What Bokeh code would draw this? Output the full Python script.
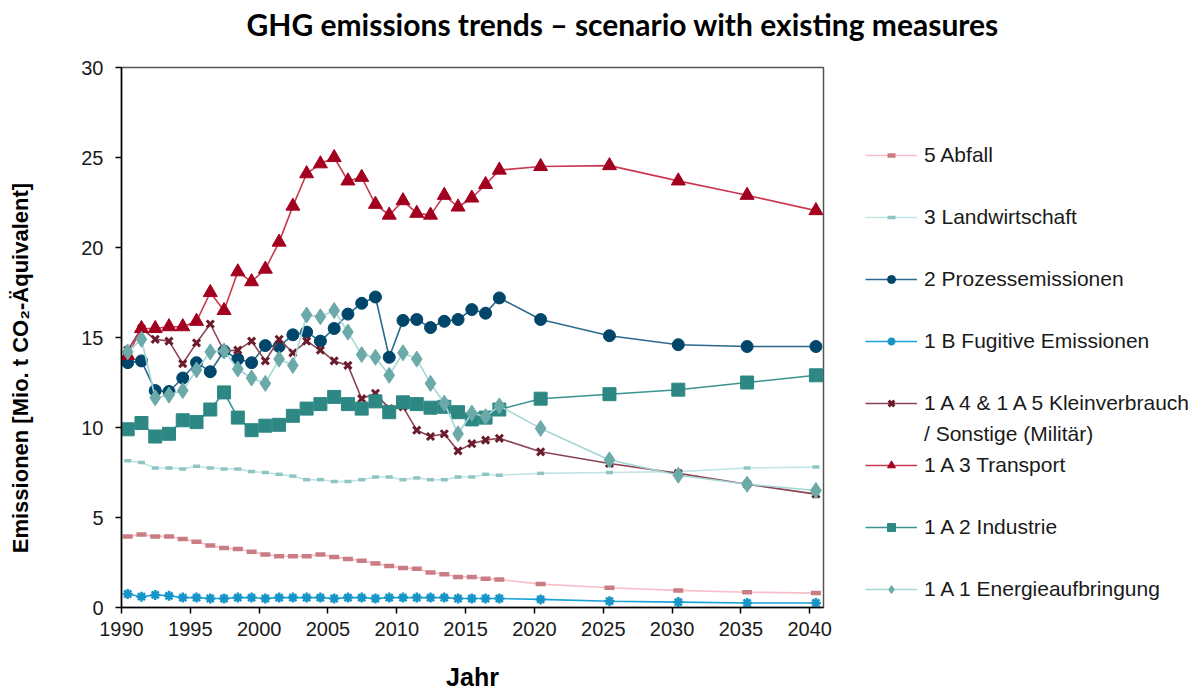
from bokeh.plotting import figure
from bokeh.models import (Range1d, FixedTicker, CustomJSTickFormatter, Legend, LegendItem)
from bokeh.embed import file_html
from bokeh.resources import INLINE

years = list(range(1990, 2018)) + [2020, 2025, 2030, 2035, 2040]

abfall = [3.95, 4.05, 3.95, 3.95, 3.8, 3.65, 3.45, 3.3, 3.25, 3.1, 2.95, 2.85, 2.85, 2.85,
          2.95, 2.8, 2.7, 2.6, 2.45, 2.3, 2.2, 2.15, 1.95, 1.85, 1.7, 1.7, 1.6, 1.55,
          1.3, 1.1, 0.95, 0.85, 0.8]
landwirtschaft = [8.15, 8.05, 7.75, 7.75, 7.7, 7.85, 7.75, 7.7, 7.7, 7.55, 7.5, 7.4, 7.3, 7.1,
                  7.1, 7.0, 7.0, 7.1, 7.25, 7.25, 7.1, 7.2, 7.1, 7.1, 7.25, 7.25, 7.4, 7.35,
                  7.45, 7.5, 7.55, 7.75, 7.8]
prozess = [13.6, 13.7, 12.05, 12.0, 12.75, 13.6, 13.1, 14.25, 13.8, 13.6, 14.55, 14.5, 15.15, 15.3,
           14.8, 15.5, 16.3, 16.9, 17.25, 13.9, 15.95, 16.0, 15.55, 15.9, 16.0, 16.55, 16.35, 17.2,
           16.0, 15.1, 14.6, 14.5, 14.5]
fugitive = [0.75, 0.6, 0.7, 0.65, 0.55, 0.55, 0.5, 0.5, 0.55, 0.55, 0.5, 0.55, 0.55, 0.55,
            0.55, 0.5, 0.55, 0.55, 0.5, 0.55, 0.55, 0.55, 0.55, 0.55, 0.5, 0.5, 0.5, 0.5,
            0.45, 0.35, 0.3, 0.25, 0.25]
kleinverbrauch = [14.3, 15.5, 14.9, 14.8, 13.55, 14.7, 15.75, 14.25, 14.3, 14.8, 13.7, 14.9, 14.15, 14.8,
                  14.3, 13.7, 13.45, 11.6, 11.9, 11.05, 11.15, 9.85, 9.5, 9.65, 8.7, 9.1, 9.3, 9.4,
                  8.65, 8.0, 7.45, 6.85, 6.3]
transport = [14.0, 15.5, 15.5, 15.6, 15.6, 15.9, 17.5, 16.5, 18.65, 18.1, 18.8, 20.3, 22.3, 24.1,
             24.65, 25.0, 23.7, 23.9, 22.4, 21.8, 22.6, 21.9, 21.8, 22.9, 22.25, 22.75, 23.5, 24.3,
             24.5, 24.55, 23.7, 22.9, 22.05]
industrie = [9.9, 10.25, 9.5, 9.65, 10.4, 10.3, 11.0, 11.95, 10.55, 9.85, 10.1, 10.15, 10.65, 11.05,
             11.3, 11.7, 11.3, 11.05, 11.45, 10.85, 11.4, 11.3, 11.1, 11.15, 10.85, 10.45, 10.55, 11.0,
             11.6, 11.85, 12.1, 12.5, 12.9]
energie = [14.2, 14.9, 11.65, 11.8, 12.05, 13.2, 14.2, 14.25, 13.25, 12.75, 12.45, 13.8, 13.45, 16.25,
           16.15, 16.5, 15.3, 14.05, 13.9, 12.9, 14.15, 13.8, 12.45, 11.35, 9.65, 10.8, 10.6, 11.2,
           9.95, 8.2, 7.35, 6.85, 6.5]

series_names = ["5 Abfall", "3 Landwirtschaft", "2 Prozessemissionen", "1 B Fugitive Emissionen",
                "1 A 4 & 1 A 5 Kleinverbrauch", "1 A 3 Transport", "1 A 2 Industrie",
                "1 A 1 Energieaufbringung"]
series_values = [abfall, landwirtschaft, prozess, fugitive, kleinverbrauch, transport, industrie, energie]
legend_second_line = "/ Sonstige (Militär)"
x_tick_labels = [str(y) for y in range(1990, 2041, 5)]
y_tick_values = [0, 5, 10, 15, 20, 25, 30]

styles = [
    dict(line="#F7BFCA", marker="dash", mcolor="#C97C82", size=10, mlw=4.5),
    dict(line="#C3E4E4", marker="dash", mcolor="#8EC4C4", size=7, mlw=3.5),
    dict(line="#2B6A8E", marker="circle", mcolor="#00466A", size=12, mlw=1),
    dict(line="#1AA2DA", marker="asterisk", mcolor="#1594C8", size=10, mlw=2.5),
    dict(line="#8B4353", marker="x", mcolor="#6A1C2C", size=10, mlw=3),
    dict(line="#C93A50", marker="triangle", mcolor="#A30020", size=14, mlw=1),
    dict(line="#3A9390", marker="square", mcolor="#2D8884", size=13, mlw=1),
    dict(line="#A5D7D7", marker="diamond", mcolor="#6BAAA8", size=16, mlw=1),
]

FONT = "Liberation Sans"
OFF = 0.45  # data points sit slightly right of the tick marks in the original

p = figure(frame_width=702, frame_height=540, output_backend="svg", toolbar_location=None,
           x_range=Range1d(1990 - OFF, 2041 - OFF), y_range=Range1d(0, 30),
           min_border_left=121, min_border_top=67, min_border_right=375, min_border_bottom=84,
           background_fill_color="white", border_fill_color="white")

renderers = []
for vals, st in zip(series_values, styles):
    r1 = p.line(years, vals, line_color=st["line"], line_width=1.6)
    r2 = p.scatter(years, vals, marker=st["marker"], size=st["size"],
                   fill_color=st["mcolor"], line_color=st["mcolor"], line_width=st["mlw"])
    renderers.append([r1, r2])

# invisible renderer used only for legend spacer rows
blank = p.line(x=[], y=[], line_alpha=0)

items = []
for i, name in enumerate(series_names):
    items.append(LegendItem(label=name, renderers=renderers[i]))
    if i == 4:
        items.append(LegendItem(label=legend_second_line, renderers=[blank]))
    elif i < len(series_names) - 1:
        items.append(LegendItem(label=" ", renderers=[blank]))

p.xgrid.visible = False
p.ygrid.visible = False
p.outline_line_color = "#555555"
p.outline_line_width = 1.5

xa = p.xaxis[0]
xa.ticker = FixedTicker(ticks=[int(t) - OFF for t in x_tick_labels])
xa.formatter = CustomJSTickFormatter(code="return Math.round(tick).toString();")
ya = p.yaxis[0]
ya.ticker = FixedTicker(ticks=y_tick_values)
for ax in (xa, ya):
    ax.axis_line_color = "black"
    ax.axis_line_width = 1.5
    ax.major_tick_line_color = "black"
    ax.major_tick_line_width = 1.5
    ax.major_tick_out = 6
    ax.major_tick_in = 0
    ax.minor_tick_out = 0
    ax.minor_tick_in = 0
    ax.major_label_text_font = FONT
    ax.major_label_text_font_size = "20px"
    ax.major_label_text_color = "#1a1a1a"
    ax.axis_label_text_font = FONT
    ax.axis_label_text_font_style = "bold"
    ax.axis_label_text_color = "black"

xa.major_label_standoff = 8
xa.axis_label = "Jahr"
xa.axis_label_text_font_size = "25px"
xa.axis_label_standoff = 24
ya.major_label_standoff = 12
ya.axis_label = "Emissionen  [Mio. t CO\u2082-Äquivalent]" + "\u00a0" * 9
ya.axis_label_text_font_size = "22px"
ya.axis_label_standoff = 45

# second (empty) line lifts the title towards the top edge, as in the original
p.title.text = "GHG emissions trends \u2013 scenario with existing measures\n\u00a0"
p.title.text_font = "Lato"
p.title.text_font_style = "bold"
p.title.text_font_size = "30px"
p.title.text_line_height = 0.72
p.title.text_color = "black"
p.title.align = "left"
p.title.vertical_align = "bottom"
p.title.offset = 125
p.title.standoff = 0

legend = Legend(items=items, location=(42, 6), orientation="vertical",
                glyph_width=52, glyph_height=20, label_height=24, spacing=7,
                label_standoff=7, padding=0, margin=0,
                label_text_font=FONT, label_text_font_size="21px", label_text_color="#1a1a1a",
                border_line_color=None, background_fill_alpha=0)
p.add_layout(legend, "right")

open("out.html", "w").write(file_html(p, INLINE))
